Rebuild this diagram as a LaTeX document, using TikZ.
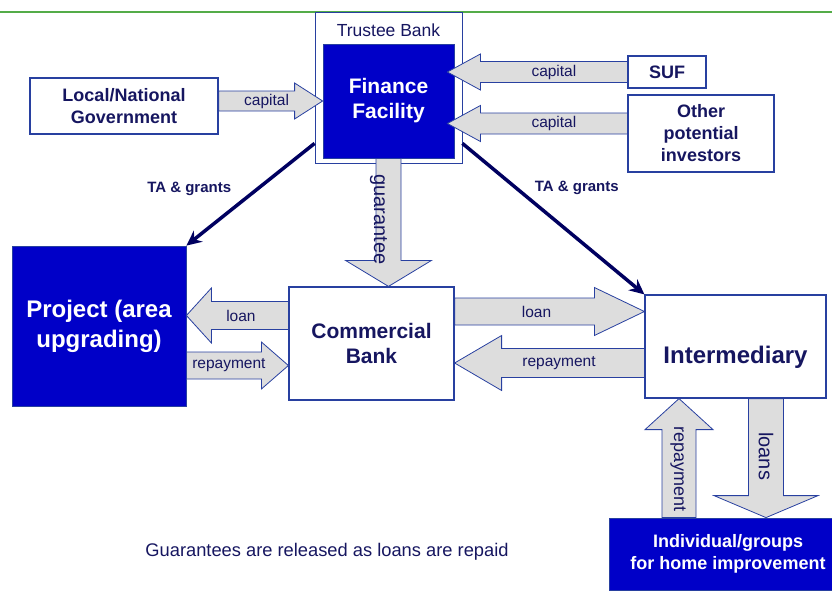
\documentclass[tikz,border=0pt]{standalone}
\usepackage{fontspec}
\setmainfont{Liberation Sans}
\usepackage{xcolor}
\usetikzlibrary{calc,positioning,arrows.meta}

\definecolor{boxblue}{RGB}{0,0,200}
\definecolor{edgeblue}{RGB}{40,64,160}
\definecolor{navytext}{RGB}{22,22,96}
\definecolor{arrowgray}{RGB}{221,221,221}
\definecolor{rulegreen}{RGB}{84,172,72}
\definecolor{grantnavy}{RGB}{0,0,96}

% fat block arrow: [label opts]{from}{to}{body half width}{head half width}{head length}{label}
\newcommand{\fatarrow}[7][]{%
	\coordinate (fa-from) at (#2);
	\coordinate (fa-to) at (#3);
	\coordinate (fa-base) at ($(fa-to)!#6!(fa-from)$);
	\draw [blockarrow] ($(fa-from)!#4!90:(fa-to)$) -- ($(fa-base)!#4!90:(fa-to)$)
		-- ($(fa-base)!#5!90:(fa-to)$) -- (fa-to) -- ($(fa-base)!#5!-90:(fa-to)$)
		-- ($(fa-base)!#4!-90:(fa-to)$) -- ($(fa-from)!#4!-90:(fa-to)$) -- cycle;
	\node [arrowlabel, #1] at ($(fa-from)!0.5!(fa-base)$) {#7};
}

\begin{document}
\begin{tikzpicture}[x=1pt, y=-1pt,
	whitebox/.style={draw=edgeblue, line width=1.2pt, fill=white, text=navytext, align=center, inner sep=0pt, font=\bfseries\fontsize{18}{22}\selectfont},
	bluebox/.style={draw=edgeblue, line width=0.8pt, fill=boxblue, text=white, align=center, inner sep=0pt, font=\bfseries\fontsize{18}{22}\selectfont},
	blockarrow/.style={draw=edgeblue, line width=0.8pt, fill=arrowgray, line join=miter},
	arrowlabel/.style={text=navytext, inner sep=0pt, font=\fontsize{15.5}{18}\selectfont},
	grantline/.style={draw=grantnavy, line width=3.5pt, -{Stealth[length=15pt,width=14pt]}},
	grantlabel/.style={text=navytext, inner sep=0pt, font=\bfseries\fontsize{15}{18}\selectfont}]
	\useasboundingbox (0,0) rectangle (832,597);

	\draw [rulegreen, line width=2pt] (0,12) -- (832,12);

	% trustee bank holding the finance facility
	\node [whitebox, line width=0.8pt, minimum width=147pt, minimum height=151pt] (tb) at (388.5, 87.5) {};
	\node [text=navytext, inner sep=0pt, font=\fontsize{17.5}{20}\selectfont, below=12pt of tb.north] (tblabel) {Trustee Bank};
	\node [bluebox, minimum width=131pt, minimum height=114pt, font=\bfseries\fontsize{21}{25}\selectfont] (ff) at (388.5, 101) {Finance\\Facility};

	% investors
	\node [whitebox, minimum width=188pt, minimum height=56pt] (gov) at (124, 106) {Local/National\\Government};
	\node [whitebox, minimum width=78pt, minimum height=32pt] (suf) at (667, 72) {SUF};
	\node [whitebox, minimum width=146pt, minimum height=77pt] (other) at (701, 133.5) {Other\\potential\\investors};

	% lenders and borrowers
	\node [bluebox, minimum width=174pt, minimum height=160pt, font=\bfseries\fontsize{24}{30}\selectfont] (proj) at (99, 326) {Project (area\\upgrading)};
	\node [whitebox, minimum width=165pt, minimum height=113pt, font=\bfseries\fontsize{21}{25}\selectfont] (cb) at (371.5, 343.5) {Commercial\\Bank};
	\node [whitebox, minimum width=181pt, minimum height=103pt, text height=34pt, text depth=0pt, font=\bfseries\fontsize{24}{28}\selectfont] (int) at (735.5, 346.5) {Intermediary};
	\node [bluebox, minimum width=238pt, minimum height=72pt] (ind) at (728, 554) {Individual/groups\\for home improvement};

	\node [text=navytext, inner sep=0pt, font=\fontsize{18.3}{22}\selectfont] (note) at (327, 552) {Guarantees are released as loans are repaid};

	% TA & grants
	\draw [grantline] ([yshift=20pt]tb.south west) -- (proj.north east)
		node [grantlabel, pos=0.45, left=24pt] {TA \& grants};
	\draw [grantline] ([yshift=20pt]tb.south east) -- (int.north west)
		node [grantlabel, pos=0.35, above right, xshift=7pt] {TA \& grants};

	% capital into the facility
	\fatarrow[xshift=10pt]{gov.east |- ff.west}{ff.west}{10pt}{18pt}{28pt}{capital}
	\coordinate (suftip) at ([xshift=-7pt]ff.east |- suf.west);
	\fatarrow{suf.west}{suftip}{10.5pt}{18pt}{33pt}{capital}
	\coordinate (oth) at ([yshift=10pt]other.west);
	\coordinate (othtip) at ([xshift=-7pt]ff.east |- oth);
	\fatarrow{oth}{othtip}{10.5pt}{18pt}{33pt}{capital}

	% guarantee
	\fatarrow[rotate=-90, font=\fontsize{20}{24}\selectfont, xshift=10pt, yshift=-10pt]{ff.south}{cb.north -| ff.south}{12.5pt}{43pt}{26pt}{guarantee}

	% loans and repayments
	\coordinate (l1) at ([yshift=28pt]cb.west);
	\coordinate (r1) at ([yshift=-22pt]cb.west);
	\coordinate (l2) at ([yshift=32pt]cb.east);
	\coordinate (r2) at ([yshift=-19.5pt]cb.east);
	\fatarrow[xshift=-9pt]{l1}{proj.east |- l1}{14pt}{27.5pt}{25pt}{loan}
	\fatarrow[xshift=5pt]{proj.east |- r1}{r1}{13.5pt}{23.5pt}{27pt}{repayment}
	\fatarrow[xshift=12pt]{l2}{int.west |- l2}{13.5pt}{24pt}{50pt}{loan}
	\fatarrow[xshift=-14pt]{int.west |- r2}{r2}{14.5pt}{27.5pt}{47pt}{repayment}

	\coordinate (r3) at ([xshift=-56.5pt]int.south);
	\coordinate (l3) at ([xshift=30.5pt]int.south);
	\fatarrow[rotate=-90, font=\fontsize{18}{22}\selectfont, xshift=-5pt, yshift=-1pt]{ind.north -| r3}{r3}{17pt}{34pt}{31pt}{repayment}
	\fatarrow[rotate=-90, font=\fontsize{20}{24}\selectfont, xshift=9pt]{l3}{ind.north -| l3}{17.5pt}{52pt}{22pt}{loans}
\end{tikzpicture}
\end{document}
